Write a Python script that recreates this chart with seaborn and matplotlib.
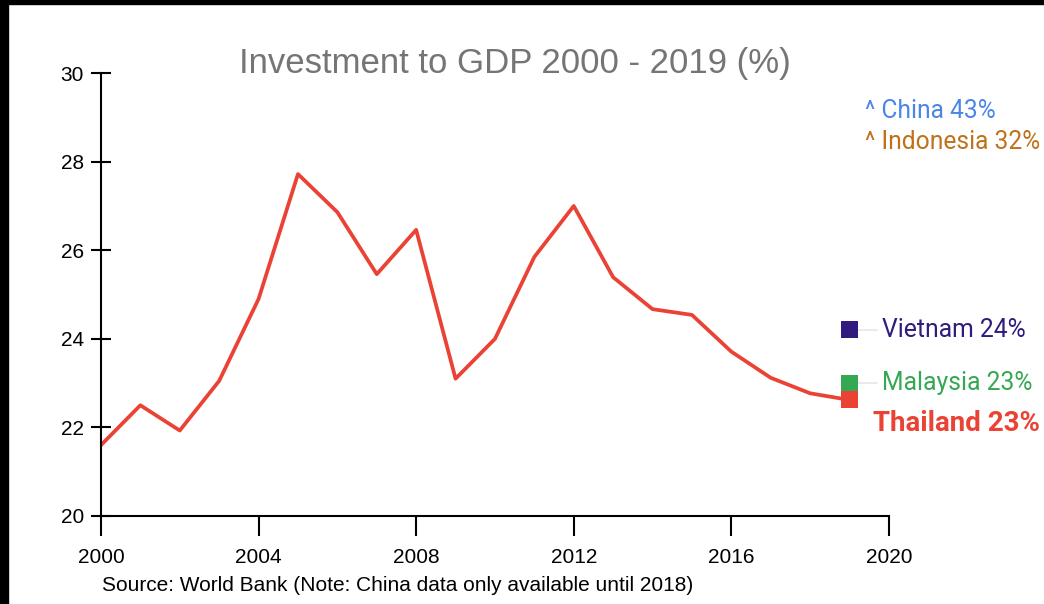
import pandas as pd
import matplotlib
matplotlib.use('Agg')
import matplotlib.pyplot as plt
import seaborn as sns

# Thailand investment to GDP (%)
years = list(range(2000, 2020))
thailand = [21.6, 22.5, 21.93, 23.05, 24.9, 27.72, 26.86, 25.46, 26.46, 23.1,
            24.0, 25.85, 27.0, 25.39, 24.67, 24.54, 23.71, 23.12, 22.77, 22.62]

# end-of-line markers for other countries (2019)
marker_countries = ['Vietnam', 'Malaysia', 'Thailand']
marker_values = [24.2, 23.0, 22.62]
marker_labels = ['Vietnam 24%', 'Malaysia 23%', 'Thailand 23%']
marker_colors = ['#311b7e', '#34a853', '#ea4335']

# off-chart countries
off_labels = ['^ China 43%', '^ Indonesia 32%']
off_colors = ['#4a86e8', '#c0711a']

x_ticks = [2000, 2004, 2008, 2012, 2016, 2020]
y_ticks = [20, 22, 24, 26, 28, 30]

df = pd.DataFrame({'year': years, 'value': thailand})
mk = pd.DataFrame({'country': marker_countries, 'year': [2019] * 3, 'value': marker_values})

sns.set_style('white')
plt.rcParams['font.family'] = ['Liberation Sans', 'DejaVu Sans']

fig = plt.figure(figsize=(10.44, 6.04), dpi=100)
ax = fig.add_axes([0.0967, 0.1457, 0.7548, 0.7333])

sns.lineplot(data=df, x='year', y='value', color='#ea4335', linewidth=2.7, ax=ax)

# light connector lines from markers to labels
for v, c in zip(marker_values[:2], marker_colors[:2]):
    ax.plot([2019.2, 2019.7], [v, v], color='#e6e6e6', lw=1.2, clip_on=False, zorder=1)

sns.scatterplot(data=mk, x='year', y='value', hue='country', palette=marker_colors,
                marker='s', s=150, edgecolor='none', legend=False, ax=ax,
                clip_on=False, zorder=5)

ax.text(2019.82, marker_values[0], marker_labels[0], color=marker_colors[0],
        family='Roboto', fontsize=17.8, va='center', ha='left')
ax.text(2019.82, marker_values[1], marker_labels[1], color=marker_colors[1],
        family='Roboto', fontsize=17.8, va='center', ha='left')
ax.text(2019.6, 22.08, marker_labels[2], color=marker_colors[2],
        family='Roboto', fontsize=20, fontweight='bold', va='center', ha='left')

ax.text(2019.39, 29.15, off_labels[0], color=off_colors[0],
        family='Roboto', fontsize=17.7, va='center', ha='left')
ax.text(2019.39, 28.44, off_labels[1], color=off_colors[1],
        family='Roboto', fontsize=17.7, va='center', ha='left')

ax.set_xlim(2000, 2020)
ax.set_ylim(20, 30)
ax.set_xticks(x_ticks)
ax.set_yticks(y_ticks)
ax.set_xlabel('')
ax.set_ylabel('')
for s in ['top', 'right']:
    ax.spines[s].set_visible(False)
for s in ['left', 'bottom']:
    ax.spines[s].set_color('black')
    ax.spines[s].set_linewidth(1.5)
ax.tick_params(axis='x', direction='out', length=14.4, width=1.5, pad=9,
               labelsize=15, colors='black', bottom=True)
ax.tick_params(axis='y', direction='inout', length=14.4, width=1.5, pad=5,
               labelsize=15, colors='black', left=True)

fig.text(0.4935, 0.895, 'Investment to GDP 2000 - 2019 (%)', ha='center', va='center',
         fontsize=25, color='#757575')
fig.text(0.0977, 0.03, 'Source: World Bank (Note: China data only available until 2018)',
         ha='left', va='center', fontsize=15, color='black')

# black border strips at the top and left edges
fig.patches.append(plt.Rectangle((0, 0), 0.0072, 1, transform=fig.transFigure,
                                 color='black', zorder=10))
fig.patches.append(plt.Rectangle((0, 0.993), 1, 0.007, transform=fig.transFigure,
                                 color='black', zorder=10))

fig.savefig('out.png', dpi=100)
